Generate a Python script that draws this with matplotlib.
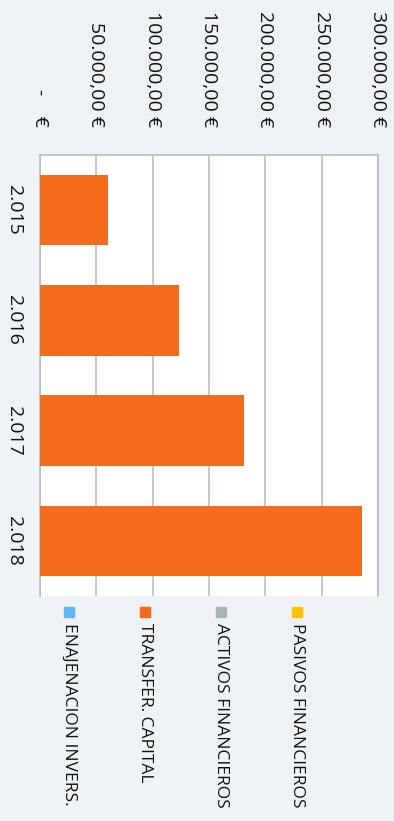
import matplotlib.pyplot as plt
from matplotlib.patches import Rectangle

# Datos: transferencias de capital por año
anios = ["2.015", "2.016", "2.017", "2.018"]
transfer_capital = [60700, 123700, 181200, 285700]

ticks_valor = [0, 50000, 100000, 150000, 200000, 250000, 300000]
etiquetas_valor = ["-    €", "50.000,00 €", "100.000,00 €", "150.000,00 €",
                   "200.000,00 €", "250.000,00 €", "300.000,00 €"]

series = ["ENAJENACION INVERS.", "TRANSFER. CAPITAL",
          "ACTIVOS FINANCIEROS", "PASIVOS FINANCIEROS"]
colores = ["#5cb7f5", "#f56b1c", "#aab4b6", "#fcc400"]

plt.rcParams['font.family'] = ['Open Sans', 'DejaVu Sans']
fondo = "#eef2f5"
rejilla = "#b6c0c0"

fig = plt.figure(figsize=(3.94, 8.21), dpi=100, facecolor=fondo)
W, H = 394, 821
ax = fig.add_axes([40 / W, 1 - 596 / H, 338 / W, 441 / H])
ax.set_facecolor("white")

pos = list(range(len(anios)))
ax.barh(pos, transfer_capital, height=0.64, color=colores[1], zorder=3)

ax.set_xlim(0, 300000)
ax.set_ylim(len(anios) - 0.5, -0.5)

ax.xaxis.tick_top()
ax.set_xticks(ticks_valor)
ax.set_xticklabels(etiquetas_valor, rotation=-90, fontsize=14,
                   ha="center", va="bottom", color="#111111")
ax.tick_params(axis="x", length=0, pad=20)
ax.set_yticks(pos)
ax.set_yticklabels(anios, rotation=-90, fontsize=14, va="center", ha="center",
                   color="#111111")
ax.tick_params(axis="y", length=0, pad=19)

ax.grid(axis="x", color=rejilla, linewidth=1.2, zorder=0)
for lado in ["top", "left", "right"]:
    ax.spines[lado].set_color(rejilla)
    ax.spines[lado].set_linewidth(1.2)
ax.spines["bottom"].set_visible(False)

# Leyenda girada, dibujada a mano
xs = [69, 145, 221, 297]
for x, nombre, c in zip(xs, series, colores):
    fig.patches.append(Rectangle(((x - 5) / W, 1 - 617 / H), 10 / W, 10 / H,
                                 color=c, transform=fig.transFigure))
    fig.text(x / W, 1 - 623 / H, nombre, rotation=-90, fontsize=12.5,
             ha="center", va="top", color="#111111")

fig.savefig("out.png", dpi=100, facecolor=fondo)
